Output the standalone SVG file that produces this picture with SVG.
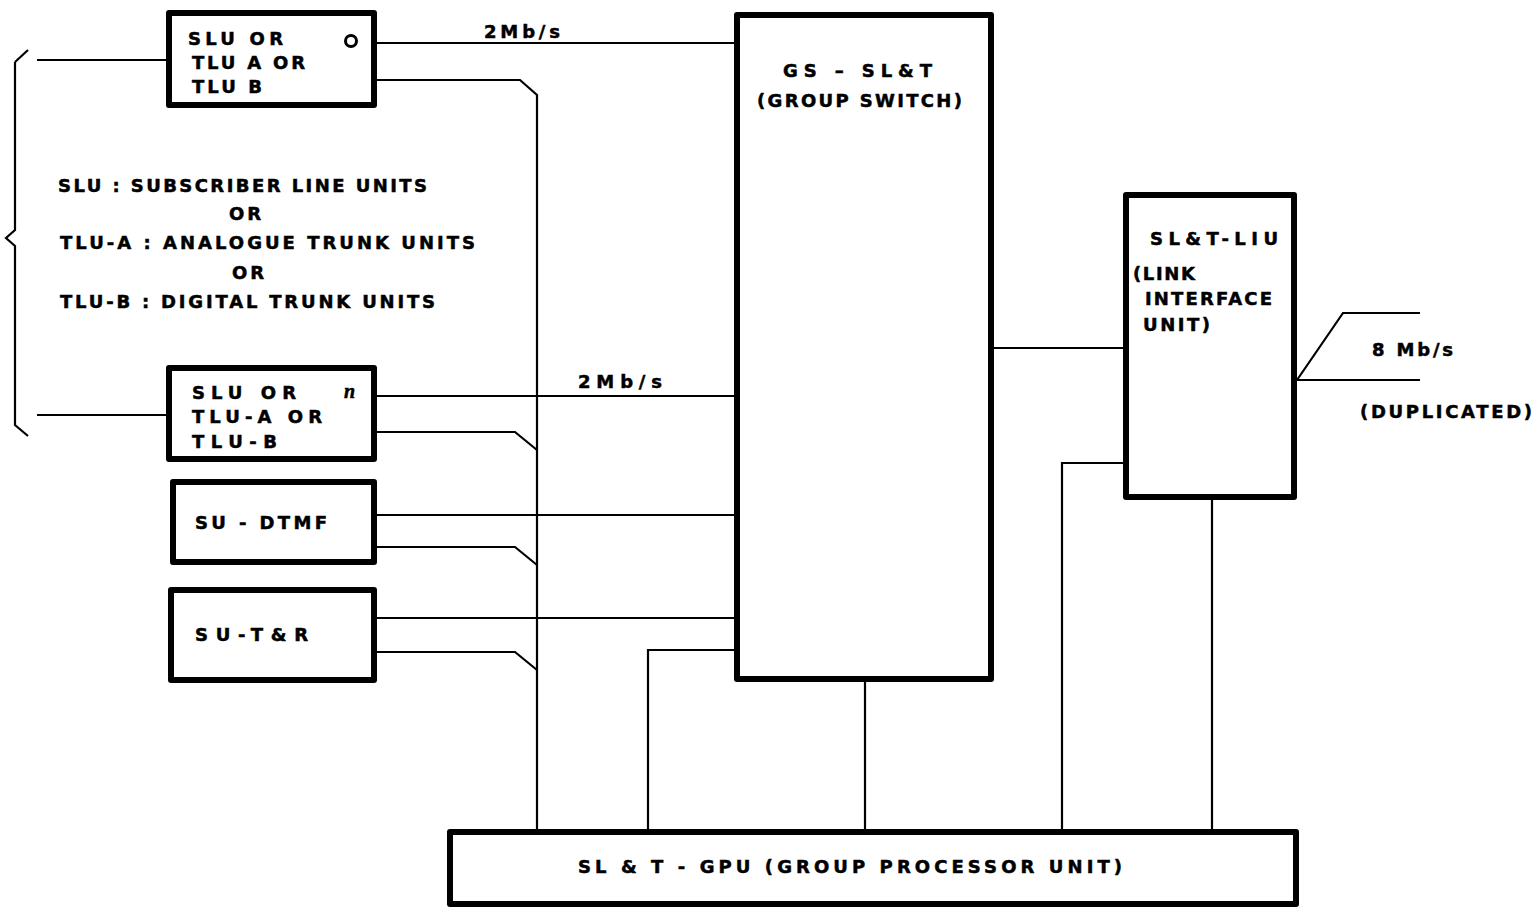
<svg xmlns="http://www.w3.org/2000/svg" width="1536" height="909" viewBox="0 0 1536 909">
<style>
.box{fill:#fff;stroke:#000;stroke-width:6;stroke-linejoin:round}
.ln{fill:none;stroke:#000;stroke-width:2.2}
text{font-family:"DejaVu Sans","Liberation Sans",Arial,sans-serif;font-weight:bold;font-size:18px;fill:#000;stroke:#000;stroke-width:0.5}
</style>
<rect width="1536" height="909" fill="#fff"/>
<g id="connectors">
<path class="ln" d="M15,62 L15,230 L6,238 L15,246 L15,425 L28,436"/>
<path class="ln" d="M15,62 L28,50"/>
<path class="ln" d="M37,60 H167"/>
<path class="ln" d="M37,415 H167"/>
<path class="ln" d="M375,43 H735"/>
<path class="ln" d="M375,80 H520 L537,95 V830"/>
<path class="ln" d="M375,396 H735"/>
<path class="ln" d="M375,432 H515 L537,450"/>
<path class="ln" d="M375,515 H735"/>
<path class="ln" d="M375,547 H515 L537,565"/>
<path class="ln" d="M375,618 H735"/>
<path class="ln" d="M375,652 H515 L537,670"/>
<path class="ln" d="M735,650 H648 V830"/>
<path class="ln" d="M865,680 V830"/>
<path class="ln" d="M992,348 H1125"/>
<path class="ln" d="M1125,463 H1062 V830"/>
<path class="ln" d="M1212,498 V830"/>
<path class="ln" d="M1297,380 L1343,313 H1420"/>
<path class="ln" d="M1297,380 H1420"/>
<text x="484" y="38" textLength="76">2Mb/s</text>
<text x="578" y="388" textLength="84">2Mb/s</text>
<text x="1372" y="356" textLength="81">8 Mb/s</text>
<text x="1360" y="418" textLength="172">(DUPLICATED)</text>
</g>
<g id="legend">
<text x="58" y="192" textLength="369">SLU : SUBSCRIBER LINE UNITS</text>
<text x="229" y="220" textLength="32">OR</text>
<text x="60" y="249" textLength="415">TLU-A : ANALOGUE TRUNK UNITS</text>
<text x="232" y="279" textLength="32">OR</text>
<text x="60" y="308" textLength="375">TLU-B : DIGITAL TRUNK UNITS</text>
</g>
<g id="unit0">
<rect class="box" x="169" y="13" width="205" height="92"/>
<text x="188" y="45" textLength="95">SLU OR</text>
<text x="192" y="69" textLength="113">TLU A OR</text>
<text x="192" y="93" textLength="70">TLU B</text>
<circle cx="351" cy="41" r="5.5" fill="none" stroke="#000" stroke-width="3"/>
</g>
<g id="unitn">
<rect class="box" x="169" y="368" width="205" height="91"/>
<text x="192" y="399" textLength="104">SLU  OR</text>
<text x="192" y="423" textLength="130">TLU-A OR</text>
<text x="192" y="448" textLength="85">TLU-B</text>
<text x="344" y="398" style="font-family:'Liberation Serif',serif;font-style:italic;font-size:20px">n</text>
</g>
<g id="su-dtmf">
<rect class="box" x="173" y="482" width="201" height="80"/>
<text x="195" y="529" textLength="132">SU - DTMF</text>
</g>
<g id="su-tr">
<rect class="box" x="171" y="590" width="203" height="90"/>
<text x="195" y="641" textLength="113">SU-T&amp;R</text>
</g>
<g id="gs">
<rect class="box" x="737" y="15" width="254" height="664"/>
<text x="783" y="77" textLength="149">GS – SL&amp;T</text>
<text x="757" y="107" textLength="205">(GROUP SWITCH)</text>
</g>
<g id="liu">
<rect class="box" x="1126" y="195" width="168" height="302"/>
<text x="1150" y="245" textLength="128">SL&amp;T-LIU</text>
<text x="1133" y="280" textLength="62">(LINK</text>
<text x="1145" y="305" textLength="127">INTERFACE</text>
<text x="1143" y="331" textLength="67">UNIT)</text>
</g>
<g id="gpu">
<rect class="box" x="450" y="832" width="846" height="72"/>
<text x="578" y="873" textLength="544">SL &amp; T - GPU (GROUP PROCESSOR UNIT)</text>
</g>
</svg>
